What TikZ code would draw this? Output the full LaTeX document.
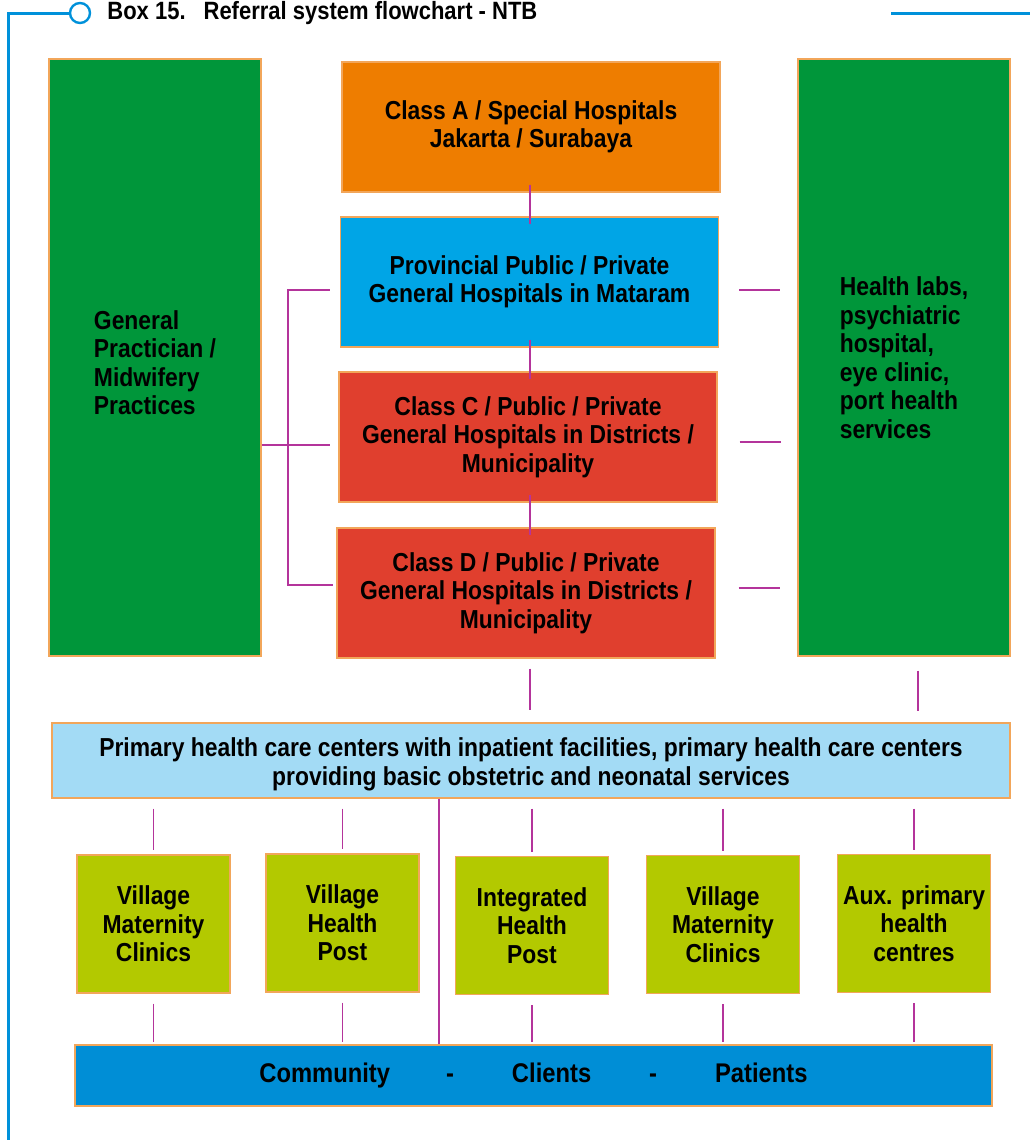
\documentclass[tikz,border=0pt]{standalone}
\usepackage{fontspec}
\setmainfont{Liberation Sans}[FakeStretch=0.88]
\usepackage{tikz}
\usetikzlibrary{positioning,calc}
\definecolor{fblue}{HTML}{0091DA}
\definecolor{aorange}{HTML}{EE7D00}
\definecolor{pblue}{HTML}{00A5E6}
\definecolor{hred}{HTML}{E03F2E}
\definecolor{sgreen}{HTML}{00963A}
\definecolor{lsky}{HTML}{A3DBF5}
\definecolor{volive}{HTML}{B3C900}
\definecolor{cblue}{HTML}{008ED6}
\definecolor{rim}{HTML}{F2A65A}
\definecolor{lmag}{HTML}{B4349B}
\tikzset{
 box/.style={draw=rim,line width=0.6pt,align=center,inner sep=0pt,
   font=\bfseries\fontsize{13}{14.25}\selectfont,text=black},
 classbox/.style={box,minimum width=189pt,minimum height=65pt},
 sidebox/.style={box,fill=sgreen,align=left,minimum width=106pt,minimum height=298.5pt},
 villbox/.style={box,fill=volive,minimum width=76.5pt,minimum height=69pt},
 link/.style={draw=lmag,line width=0.8pt},
 joint/.style={link,shorten <=-4pt,shorten >=-4pt},
 frame/.style={draw=fblue,line width=1.5pt}
}

\begin{document}
\begin{tikzpicture}[x=0.5pt,y=-0.5pt]
 \useasboundingbox (0,0) rectangle (1030,1140);
 % header
 \node[draw=fblue,line width=1.2pt,circle,minimum size=10pt,inner sep=0pt,fill=white] (ring) at (80,13) {};
 \node[anchor=west,inner sep=0pt,font=\bfseries\fontsize{12.5}{14}\selectfont] (title) at (107,13)
   {Box 15.\hspace{9pt}Referral system flowchart - NTB};
 \coordinate (corner) at (8,13);
 \coordinate (foot) at (8,1140);
 \coordinate (rule) at (891,13);
 \coordinate (edge) at (1030,13);
 \draw[frame] (ring.west) -- (corner) -- (foot);
 \draw[frame] (rule) -- (edge);
 % side columns
 \node[sidebox] (gp) at (155,357.5) {\raisebox{-4.5pt}[\height][\depth]{\begin{tabular}{@{}l@{}}General\\Practician /\\Midwifery\\Practices\end{tabular}}};
 \node[sidebox] (labs) at (904,357.5) {Health labs,\\psychiatric\\hospital,\\eye clinic,\\port health\\services};
 % hospital ladder
 \node[classbox,fill=aorange] (classa) at (531,127) {Class A / Special Hospitals\\Jakarta / Surabaya};
 \node[classbox,fill=pblue] (prov) at (529.5,282) {Provincial Public / Private\\General Hospitals in Mataram};
 \node[classbox,fill=hred] (classc) at (528,437) {Class C / Public / Private\\General Hospitals in Districts /\\Municipality};
 \node[classbox,fill=hred] (classd) at (526,593) {Class D / Public / Private\\General Hospitals in Districts /\\Municipality};
 % primary care
 \node[box,fill=lsky,minimum width=479pt,minimum height=37.5pt] (phc) at (531,760.5)
   {\raisebox{-2.5pt}[\height][\depth]{\begin{tabular}{@{}c@{}}Primary health care centers with inpatient facilities, primary health care centers\\providing basic obstetric and neonatal services\end{tabular}}};
 \node[villbox] (vmca) at (153.5,924) {Village\\Maternity\\Clinics};
 \node[villbox] (vhp) at (342.5,923) {Village\\Health\\Post};
 \node[villbox] (ihp) at (532,925.5) {Integrated\\Health\\Post};
 \node[villbox] (vmcb) at (723,924.5) {Village\\Maternity\\Clinics};
 \node[villbox] (aux) at (914,923.5) {Aux. primary\\health\\centres};
 \node[box,fill=cblue,minimum width=458.5pt,minimum height=30.5pt,font=\bfseries\fontsize{13.5}{15}\selectfont] (comm) at (533.5,1075.5)
   {Community\hspace{28pt}-\hspace{29pt}Clients\hspace{29pt}-\hspace{29pt}Patients};
 % ladder links
 \coordinate (axis) at (530,0);
 \draw[joint] (axis |- classa.south) -- (axis |- prov.north);
 \draw[joint] (axis |- prov.south) -- (axis |- classc.north);
 \draw[joint] (axis |- classc.south) -- (axis |- classd.north);
 % left bracket
 \coordinate (spine) at (288,585);
 \coordinate (cmid) at ([yshift=-4pt]classc.west);
 \draw[link] ([xshift=-5pt,yshift=-4pt]prov.west) -| (spine) -- ([xshift=-1.5pt,yshift=4pt]classd.west);
 \draw[link] (cmid -| gp.east) -- ([xshift=-4pt]cmid);
 % right links
 \coordinate (pr) at ([yshift=-4pt]prov.east);
 \coordinate (cr) at ([yshift=-2.5pt]classc.east);
 \coordinate (dr) at ([yshift=2.5pt]classd.east);
 \draw[link,shorten <=10pt,shorten >=8.5pt] (pr) -- (pr -| labs.west);
 \draw[link,shorten <=11pt,shorten >=8pt] (cr) -- (cr -| labs.west);
 \draw[link,shorten <=11.5pt,shorten >=8.5pt] (dr) -- (dr -| labs.west);
 % down to primary care
 \draw[link,shorten <=5pt,shorten >=6pt] (axis |- classd.south) -- (axis |- phc.north);
 \draw[link,shorten <=7pt,shorten >=5.5pt] ([xshift=7pt]labs.south) -- ([xshift=7pt]labs.south |- phc.north);
 % primary care to villages
 \foreach \v in {vmca,vhp,ihp,vmcb,aux}{
   \draw[link,shorten <=5pt,shorten >=2pt] (\v.north |- phc.south) -- (\v.north);
   \draw[link,shorten <=5pt,shorten >=1pt] (\v.south) -- (\v.south |- comm.north);
 }
 \coordinate (drop) at (439,800);
 \draw[link] (drop |- phc.south) -- (drop |- comm.north);
\end{tikzpicture}
\end{document}
